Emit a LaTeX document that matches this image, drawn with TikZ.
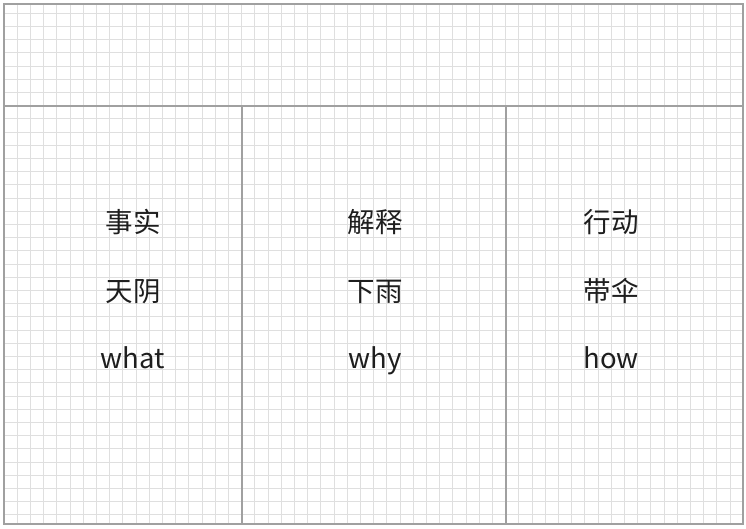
\documentclass[tikz,border=0pt]{standalone}
\usepackage{fontspec}
\setmainfont{Noto Sans CJK SC}
\definecolor{gridc}{HTML}{DFDFDF}
\definecolor{framec}{HTML}{A0A0A0}
\definecolor{txtc}{HTML}{1E1E1E}
\tikzset{
  frame/.style={draw=framec, line width=2pt},
  gridline/.style={draw=gridc, line width=1pt},
  label/.style={anchor=base, inner sep=0pt, text=txtc, font=\fontsize{27.5}{30}\selectfont}
}
\begin{document}
\begin{tikzpicture}[x=1pt,y=-1pt]
\useasboundingbox (0,0) rectangle (746,528);
\fill[white] (0,0) rectangle (746,528);
% grid
\begin{scope}
\clip (4,4) rectangle (743,524);
\foreach \k in {0,...,56} { \draw[gridline] ({4+13.2*\k},0) -- ({4+13.2*\k},528); }
\foreach \k in {0,...,40} { \draw[gridline] (0,{13.2*\k}) -- (746,{13.2*\k}); }
\end{scope}
% frame
\coordinate (tl) at (4,4);
\coordinate (br) at (743,524);
\coordinate (hl) at (4,106);
\coordinate (hr) at (743,106);
\coordinate (v1t) at (242,106);
\coordinate (v1b) at (242,524);
\coordinate (v2t) at (506,106);
\coordinate (v2b) at (506,524);
\draw[frame] (tl) rectangle (br);
\draw[frame] (hl) -- (hr);
\draw[frame] (v1t) -- (v1b);
\draw[frame] (v2t) -- (v2b);
% texts
\node[label] (a1) at (133,232) {事实};
\node[label] (a2) at (133,301) {天阴};
\node[label] (a3) at (133,368) {what};
\node[label] (b1) at (375,232) {解释};
\node[label] (b2) at (375,301) {下雨};
\node[label] (b3) at (375,368) {why};
\node[label] (c1) at (611,232) {行动};
\node[label] (c2) at (611,301) {带伞};
\node[label] (c3) at (611,368) {how};
\end{tikzpicture}
\end{document}
